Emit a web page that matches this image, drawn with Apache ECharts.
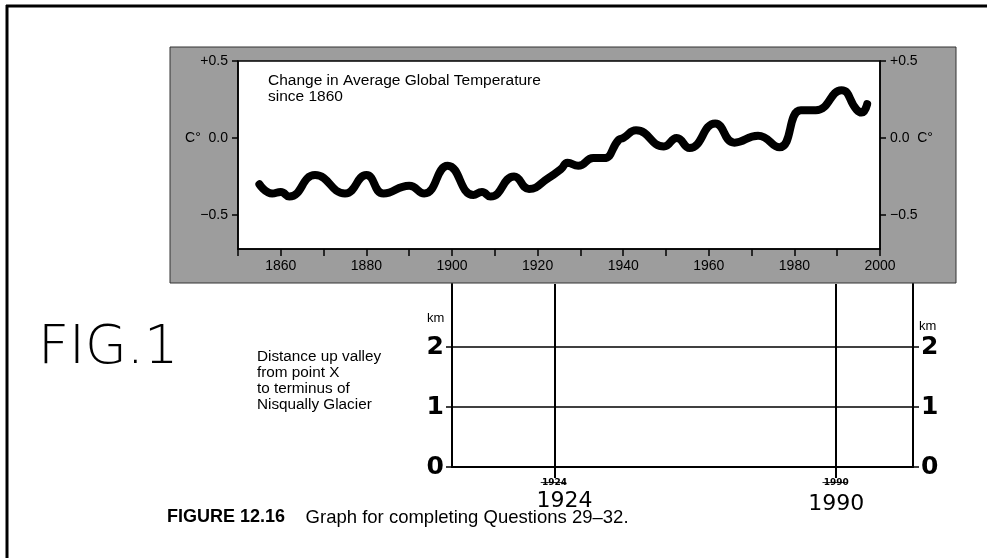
<!DOCTYPE html>
<html>
<head>
<meta charset="utf-8">
<script src="https://cdn.jsdelivr.net/npm/echarts@6/dist/echarts.min.js"></script>
<style>html,body{margin:0;padding:0;background:#fff}#c{width:987px;height:558px}</style>
</head>
<body>
<div id="c"></div>
<script>
// ---- data ----
var tempYears = [1855, 1858, 1860, 1862, 1868, 1875, 1880, 1884, 1890, 1893.5, 1899, 1905, 1907, 1909, 1914.5, 1918, 1922.5, 1925.5, 1927, 1929.5, 1933, 1935.5, 1939, 1940, 1943, 1949.5, 1952.5, 1955.5, 1961.5, 1966, 1971.5, 1976.5, 1981.5, 1985, 1991, 1994.5, 1995.7, 1997];
var tempChange = [-0.30, -0.36, -0.35, -0.38, -0.24, -0.36, -0.24, -0.36, -0.31, -0.36, -0.18, -0.37, -0.35, -0.38, -0.25, -0.33, -0.26, -0.20, -0.16, -0.18, -0.13, -0.13, -0.01, 0.00, 0.05, -0.055, 0.00, -0.065, 0.095, -0.03, 0.015, -0.06, 0.18, 0.18, 0.31, 0.185, 0.165, 0.22];
var yearTicks = [1860, 1880, 1900, 1920, 1940, 1960, 1980, 2000];
var tempTicks = [-0.5, 0, 0.5];
var kmTicks = [0, 1, 2];
var glacierYears = [1924, 1990];
var glacierStruck = ['1924', '1990'];

var tempSeries = tempYears.map(function (y, i) { return [y, tempChange[i]]; });
var FONT = 'Liberation Sans';
var HAND = 'DejaVu Sans';

function tempLabelLeft(v) {
  if (v > 0.1) return '+0.5';
  if (v < -0.1) return '\u22120.5';
  return 'C\u00b0  0.0';
}
function tempLabelRight(v) {
  if (v > 0.1) return '+0.5';
  if (v < -0.1) return '\u22120.5';
  return '0.0  C\u00b0';
}
function strike(s) { return s.split('').join('\u0336') + '\u0336'; }

var chart = echarts.init(document.getElementById('c'), null, { renderer: 'canvas' });
chart.setOption({
  animation: false,
  backgroundColor: '#fff',
  graphic: {
    elements: [
      { type: 'rect', z: -100, shape: { x: 170, y: 47, width: 786, height: 236 }, style: { fill: '#9d9d9d', stroke: '#333', lineWidth: 1 } },
      { type: 'line', z: 10, shape: { x1: 6, y1: 6, x2: 987, y2: 6 }, style: { stroke: '#000', lineWidth: 3 } },
      { type: 'line', z: 10, shape: { x1: 7, y1: 5, x2: 7, y2: 558 }, style: { stroke: '#000', lineWidth: 3 } },
      { type: 'text', left: 38, top: 322, style: { text: 'FIG.1', font: '200 54px "DejaVu Sans"', fill: '#000' } },
      { type: 'text', left: 257, top: 349, style: { text: 'Distance up valley\nfrom point X\nto terminus of\nNisqually Glacier', font: '15.3px "Liberation Sans"', lineHeight: 16, fill: '#000' } },
      { type: 'text', left: 427, top: 312, style: { text: 'km', font: '13px "Liberation Sans"', fill: '#000' } },
      { type: 'text', left: 919, top: 320, style: { text: 'km', font: '13px "Liberation Sans"', fill: '#000' } },
      { type: 'text', left: 167, top: 508, style: { rich: { b: { fontFamily: FONT, fontWeight: 'bold', fontSize: 18, fill: '#000' }, n: { fontFamily: FONT, fontSize: 18.5, fill: '#000' } }, text: '{b|FIGURE 12.16}{n|    Graph for completing Questions 29\u201332.}' } }
    ]
  },
  title: {
    text: 'Change in Average Global Temperature\nsince 1860',
    left: 263, top: 68,
    textStyle: { fontFamily: FONT, fontSize: 15.5, fontWeight: 'normal', color: '#000', lineHeight: 16 }
  },
  grid: [
    { left: 238, right: 107, top: 61, bottom: 309, show: true, backgroundColor: '#fff', borderColor: '#000', borderWidth: 1.5 },
    { left: 452, right: 74, top: 284, bottom: 91, show: false }
  ],
  xAxis: [
    {
      type: 'value', gridIndex: 0, min: 1850, max: 2000, interval: 10,
      axisLine: { show: true, onZero: false, lineStyle: { color: '#000', width: 1.5 } },
      axisTick: { show: true, length: 7, inside: false, lineStyle: { color: '#000', width: 1.5 } },
      axisLabel: { customValues: yearTicks, formatter: function (v) { return String(v); }, margin: 10, fontFamily: FONT, fontSize: 14, color: '#000' },
      splitLine: { show: false }
    },
    {
      type: 'value', gridIndex: 1, min: 1900, max: 2008,
      axisLine: { show: true, onZero: false, lineStyle: { color: '#000', width: 2 } },
      axisTick: { show: true, customValues: glacierYears, length: 11, lineStyle: { color: '#000', width: 2 } },
      axisLabel: {
        customValues: glacierYears, margin: 10,
        formatter: function (v) {
          var i = glacierYears.indexOf(v);
          return '{s|' + strike(glacierStruck[i]) + '}\n{h' + i + '|' + v + '}';
        },
        rich: {
          s: { fontFamily: 'DejaVu Sans', fontSize: 9, fontWeight: 'bold', color: '#000', lineHeight: 12 },
          h0: { fontFamily: HAND, fontSize: 22, color: '#000', lineHeight: 24, padding: [0, 0, 0, 20] },
          h1: { fontFamily: HAND, fontSize: 22, color: '#000', lineHeight: 30 }
        }
      },
      splitLine: { show: false }
    }
  ],
  yAxis: [
    {
      type: 'value', gridIndex: 0, position: 'left', min: -0.72, max: 0.5,
      axisLine: { show: true, onZero: false, lineStyle: { color: '#000', width: 1.5 } },
      axisTick: { show: true, customValues: tempTicks, length: 6, lineStyle: { color: '#000', width: 1.5 } },
      axisLabel: { customValues: tempTicks, formatter: tempLabelLeft, margin: 10, fontFamily: FONT, fontSize: 14, color: '#000' },
      splitLine: { show: false }
    },
    {
      type: 'value', gridIndex: 0, position: 'right', min: -0.72, max: 0.5,
      axisLine: { show: true, onZero: false, lineStyle: { color: '#000', width: 1.5 } },
      axisTick: { show: true, customValues: tempTicks, length: 6, lineStyle: { color: '#000', width: 1.5 } },
      axisLabel: { customValues: tempTicks, formatter: tempLabelRight, margin: 10, fontFamily: FONT, fontSize: 14, color: '#000' },
      splitLine: { show: false }
    },
    {
      type: 'value', gridIndex: 1, position: 'left', min: 0, max: 3.05,
      axisLine: { show: true, onZero: false, lineStyle: { color: '#000', width: 2 } },
      axisTick: { show: true, customValues: kmTicks, length: 6, lineStyle: { color: '#000', width: 1.5 } },
      axisLabel: { customValues: kmTicks, margin: 8, fontFamily: HAND, fontWeight: 'bold', fontSize: 25, color: '#000' },
      splitLine: { show: false }
    },
    {
      type: 'value', gridIndex: 1, position: 'right', min: 0, max: 3.05,
      axisLine: { show: true, onZero: false, lineStyle: { color: '#000', width: 2 } },
      axisTick: { show: true, customValues: kmTicks, length: 6, lineStyle: { color: '#000', width: 1.5 } },
      axisLabel: { customValues: kmTicks, margin: 8, fontFamily: HAND, fontWeight: 'bold', fontSize: 25, color: '#000' },
      splitLine: { show: false }
    }
  ],
  series: [
    {
      type: 'line', xAxisIndex: 0, yAxisIndex: 0, data: tempSeries,
      smooth: 0.5, showSymbol: false, symbol: 'none',
      lineStyle: { color: '#000', width: 8, cap: 'round', join: 'round' }
    },
    {
      type: 'line', xAxisIndex: 1, yAxisIndex: 2, data: [],
      markLine: {
        silent: true, symbol: 'none', label: { show: false },
        lineStyle: { color: '#000', width: 2, type: 'solid' },
        data: glacierYears.map(function (y) { return { xAxis: y }; })
          .concat(kmTicks.filter(function (k) { return k > 0; }).map(function (k) { return { yAxis: k, lineStyle: { width: 1.5 } }; }))
      }
    }
  ]
});
</script>
</body>
</html>
